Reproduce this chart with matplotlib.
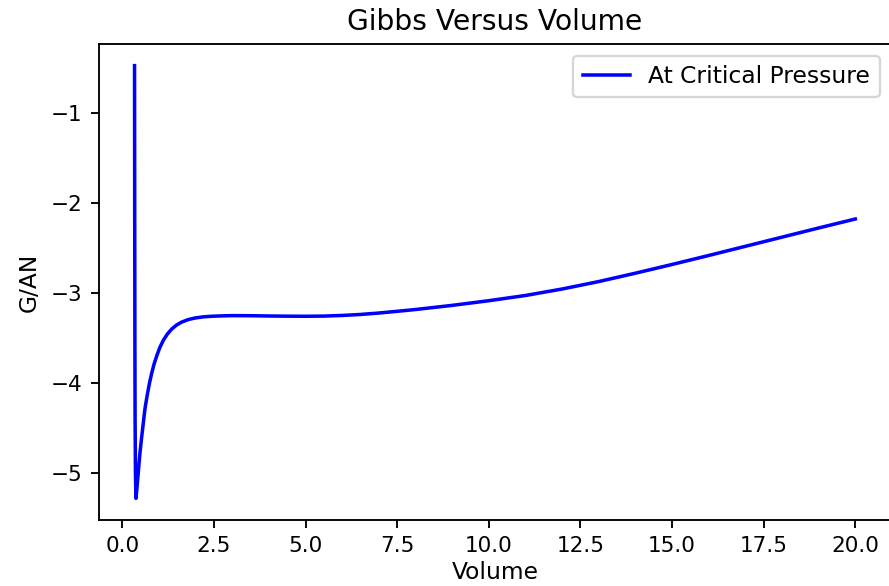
import matplotlib
matplotlib.use("Agg")
import matplotlib.pyplot as plt

# Gibbs free energy along the critical isobar
volume = [0.335, 0.34, 0.345, 0.35, 0.36, 0.374, 0.40, 0.44, 0.48, 0.53,
          0.58, 0.62, 0.68, 0.74, 0.80, 0.87, 0.94, 1.02, 1.12, 1.23,
          1.35, 1.48, 1.62, 1.80, 1.98, 2.2, 2.44, 2.7, 3.0, 3.5,
          4.0, 4.5, 5.0, 5.5, 6.0, 6.5, 7.0, 7.5, 8.0, 9.0,
          10.0, 11.0, 12.0, 13.0, 14.0, 15.0, 16.0, 17.0, 18.0, 19.0, 20.0]
gibbs = [-0.47, -2.2, -3.6, -4.4, -5.0, -5.284, -5.17, -4.98, -4.79, -4.60,
         -4.425, -4.285, -4.138, -4.007, -3.896, -3.787, -3.70, -3.61, -3.526, -3.456,
         -3.40, -3.356, -3.323, -3.295, -3.278, -3.265, -3.258, -3.254, -3.251, -3.252,
         -3.255, -3.257, -3.258, -3.256, -3.249, -3.238, -3.222, -3.203, -3.183, -3.137,
         -3.085, -3.027, -2.955, -2.872, -2.779, -2.682, -2.582, -2.48, -2.378, -2.276, -2.176]

dpi = 168.5
fig = plt.figure(figsize=(889 / dpi, 586 / dpi), dpi=dpi)
ax = fig.add_axes([0.1108, 0.1126, 0.8918, 0.8123])

ax.plot(volume, gibbs, color="b", label="At Critical Pressure")
ax.set_title("Gibbs Versus Volume")
ax.set_xlabel("Volume", labelpad=2)
ax.set_ylabel("G/AN")
ax.tick_params(labelsize=9.2)
ax.legend(loc="upper right")

fig.savefig("out.png", dpi=dpi)
